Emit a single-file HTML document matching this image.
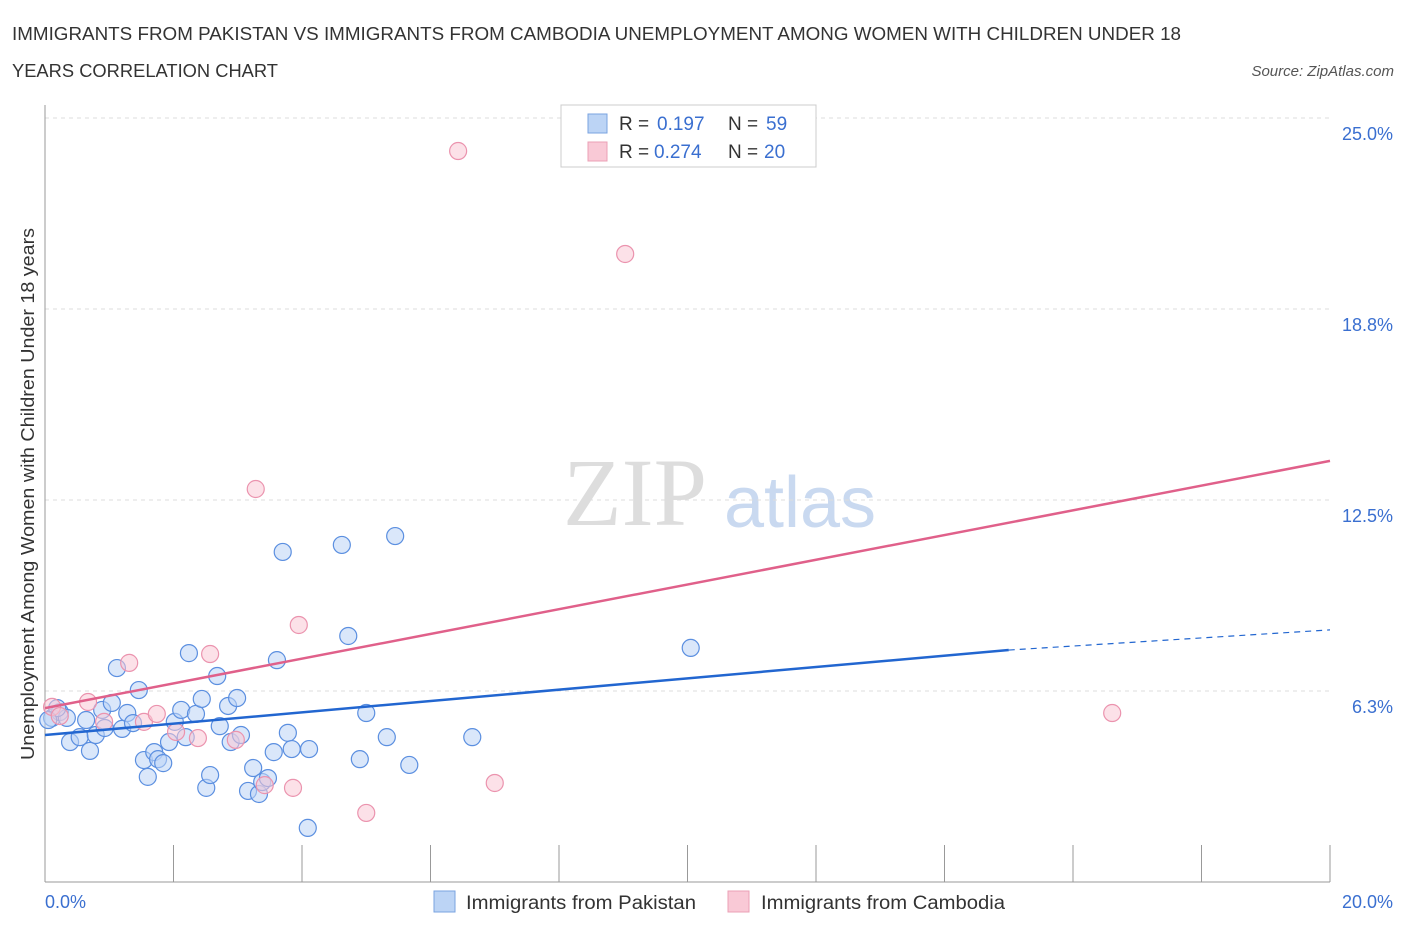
<!DOCTYPE html>
<html><head><meta charset="utf-8"><style>
body{margin:0;background:#fff;font-family:"Liberation Sans",sans-serif;}
</style></head><body>
<svg width="1406" height="930" xmlns="http://www.w3.org/2000/svg">
<text x="12" y="40" font-size="18" fill="#333" textLength="1169" lengthAdjust="spacingAndGlyphs">IMMIGRANTS FROM PAKISTAN VS IMMIGRANTS FROM CAMBODIA UNEMPLOYMENT AMONG WOMEN WITH CHILDREN UNDER 18</text>
<text x="12" y="77" font-size="18" fill="#333" textLength="266" lengthAdjust="spacingAndGlyphs">YEARS CORRELATION CHART</text>
<text x="1394" y="76" font-size="15" fill="#555" text-anchor="end" font-style="italic">Source: ZipAtlas.com</text>
<text x="635" y="525" font-size="96" fill="#ddd" font-family="Liberation Serif" text-anchor="middle">ZIP</text>
<text x="800" y="527" font-size="72" fill="#c9d9f0" text-anchor="middle">atlas</text>
<g id="grid"></g>
<g id="axes"></g>
<g id="marks"></g>
<text transform="translate(34,494) rotate(-90)" font-size="18" fill="#333" text-anchor="middle" textLength="532" lengthAdjust="spacingAndGlyphs">Unemployment Among Women with Children Under 18 years</text>
<text x="45" y="908" font-size="18" fill="#3a6fd0">0.0%</text>
<text x="1393" y="908" font-size="18" fill="#3a6fd0" text-anchor="end">20.0%</text>
<g>
<rect x="561" y="105" width="255" height="62" fill="#fff" stroke="#ccc"/>
<rect x="588" y="114" width="19" height="19" fill="#bcd4f5" stroke="#7aa3e0"/>
<rect x="588" y="142" width="19" height="19" fill="#f9c9d6" stroke="#eba0b6"/>
<text x="619" y="130" font-size="19" fill="#333">R =</text>
<text x="657" y="130" font-size="19" fill="#3a6fd0">0.197</text>
<text x="728" y="130" font-size="19" fill="#333">N =</text>
<text x="766" y="130" font-size="19" fill="#3a6fd0">59</text>
<text x="619" y="158" font-size="19" fill="#333">R =</text>
<text x="654" y="158" font-size="19" fill="#3a6fd0">0.274</text>
<text x="728" y="158" font-size="19" fill="#333">N =</text>
<text x="764" y="158" font-size="19" fill="#3a6fd0">20</text>
</g>
<g>
<rect x="434" y="891" width="21" height="21" fill="#bcd4f5" stroke="#7aa3e0"/>
<text x="466" y="909" font-size="19" fill="#333" textLength="230" lengthAdjust="spacingAndGlyphs">Immigrants from Pakistan</text>
<rect x="728" y="891" width="21" height="21" fill="#f9c9d6" stroke="#eba0b6"/>
<text x="761" y="909" font-size="19" fill="#333" textLength="244" lengthAdjust="spacingAndGlyphs">Immigrants from Cambodia</text>
</g>
</svg>
<script>
const yTicks=[6.25,12.5,18.75,25];
const yTickLabels=["6.3%","12.5%","18.8%","25.0%"];
const blueX=[0.11,0.23,0.34,0.39,0.54,0.64,0.70,0.79,0.89,0.93,1.04,1.12,1.20,1.28,1.37,1.46,1.54,1.60,1.70,1.76,1.84,1.93,2.02,2.12,2.19,2.24,2.35,2.44,2.51,2.57,2.68,2.72,2.85,2.89,2.99,3.05,3.16,3.24,3.33,3.38,3.47,3.56,3.61,3.70,3.78,3.84,4.11,4.09,4.62,4.72,4.90,5.00,5.32,5.45,5.67,6.65,10.05,0.19,0.05];
const blueY=[5.37,5.56,5.37,4.58,4.74,5.30,4.29,4.81,5.63,5.04,5.86,7.00,5.01,5.53,5.20,6.28,3.99,3.44,4.25,4.02,3.89,4.58,5.24,5.63,4.74,7.49,5.50,5.99,3.08,3.50,6.74,5.10,5.76,4.58,6.02,4.81,2.98,3.73,2.88,3.27,3.40,4.25,7.26,10.80,4.88,4.35,4.35,1.77,11.03,8.05,4.02,5.53,4.74,11.32,3.83,4.74,7.66,5.69,5.30];
const pinkX=[0.11,0.23,0.67,0.92,1.31,1.54,1.74,2.04,2.38,2.57,2.97,3.28,3.42,3.86,3.95,5.00,6.43,7.00,9.03,16.61];
const pinkY=[5.73,5.43,5.89,5.24,7.17,5.24,5.50,4.91,4.71,7.46,4.65,12.86,3.17,3.08,8.41,2.26,23.92,3.24,20.55,5.53];
const blueLine=[4.81,7.59,8.25];
const blueLineX=[0,15,20];
const pinkLine=[5.69,13.78];
const pinkLineX=[0,20];
const NS="http://www.w3.org/2000/svg";
const xs=v=>45+v/20*1285;
const ys=v=>882-v*30.56;
function mk(tag,attrs,parent){const e=document.createElementNS(NS,tag);for(const k in attrs)e.setAttribute(k,attrs[k]);document.getElementById(parent).appendChild(e);return e;}
yTicks.forEach((t,i)=>{
 let g=mk('line',{x1:45,x2:1330,y1:ys(t),y2:ys(t),stroke:'#ddd','stroke-dasharray':'4,4'},'grid');
 
 
 let l=mk('text',{x:1393,y:ys(t)+22,'font-size':18,fill:'#3a6fd0','text-anchor':'end'},'grid');
 l.textContent=yTickLabels[i];
 
 
});
let ya=mk('line',{x1:45,x2:45,y1:105,y2:882,stroke:'#999'},'axes');


let xa=mk('line',{x1:45,x2:1330,y1:882,y2:882,stroke:'#999'},'axes');


for(let i=0;i<=10;i++){
 let t=mk('line',{x1:xs(i*2),x2:xs(i*2),y1:845,y2:882,stroke:'#999'},'axes');
 
 
}
function pts(X,Y,fill,stroke,name){
 X.forEach((x,i)=>{
  let c=mk('circle',{cx:xs(x),cy:ys(Y[i]),r:8.5,fill:fill,'fill-opacity':0.55,stroke:stroke,'stroke-width':1.2},'marks');
  
  
 });
}
pts(blueX,blueY,'#bcd4f5','#5b8fe0','point-pakistan');
pts(pinkX,pinkY,'#f9c9d6','#eb93ae','point-cambodia');
let bl=mk('line',{x1:xs(blueLineX[0]),y1:ys(blueLine[0]),x2:xs(blueLineX[1]),y2:ys(blueLine[1]),stroke:'#2266d0','stroke-width':2.5},'marks');


let bd=mk('line',{x1:xs(blueLineX[1]),y1:ys(blueLine[1]),x2:xs(blueLineX[2]),y2:ys(blueLine[2]),stroke:'#2266d0','stroke-width':1.2,'stroke-dasharray':'6,5'},'marks');


let pl=mk('line',{x1:xs(pinkLineX[0]),y1:ys(pinkLine[0]),x2:xs(pinkLineX[1]),y2:ys(pinkLine[1]),stroke:'#e0608a','stroke-width':2.5},'marks');


</script>
</body></html>
